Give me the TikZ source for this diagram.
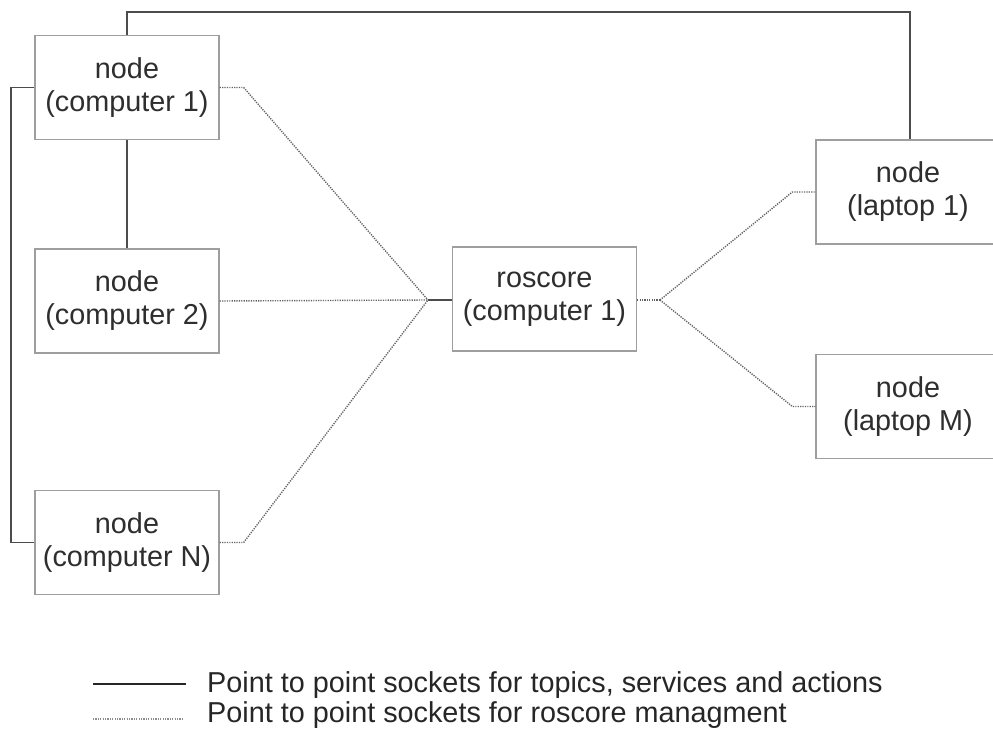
\documentclass[tikz,border=0pt]{standalone}
\usepackage{fontspec}
\setmainfont{Liberation Sans}
\begin{document}
\begin{tikzpicture}[x=1pt,y=-1pt,
  box/.style={draw=black!38, line width=1.3pt, fill=white, minimum width=184pt, minimum height=104pt,
    align=center, text=black!82, inner sep=0pt,
    font=\fontsize{28.8}{33}\selectfont},
  solidline/.style={draw=black!70, line width=1.9pt},
  dotline/.style={draw=black!62, line width=1.4pt, dash pattern=on 1.2pt off 1.2pt},
  legtext/.style={anchor=west, text=black!85, inner sep=0pt, font=\fontsize{28.8}{32}\selectfont}]
\useasboundingbox (0,0) rectangle (993,733);
\fill[white] (0,0) rectangle (993,733);
% nodes
\node[box] (c1) at (127,87.5) {node\\(computer 1)};
\node[box] (c2) at (127,301) {node\\(computer 2)};
\node[box] (cN) at (127,542.5) {node\\(computer N)};
\node[box] (ros) at (544.5,299) {roscore\\(computer 1)};
\node[box] (l1) at (908,192) {node\\(laptop 1)};
\node[box] (lM) at (908,406.5) {node\\(laptop M)};
\coordinate (jL) at (428,300);
\coordinate (jR) at (660,300);
% solid connections
\draw[solidline] (c1.north) -- ++(0,-23) -| ([xshift=2pt]l1.north);
\draw[solidline] (c1.west) -- ++(-23,0) |- (cN.west);
\draw[solidline] (c1.south) -- (c2.north);
\draw[solidline] (jL) -- (ros.west |- jL);
% dotted connections
\draw[dotline] (c1.east) -- ++(24,0) -- (jL);
\draw[dotline] (c2.east) -- (jL);
\draw[dotline] (cN.east) -- ++(24,0) -- (jL);
\draw[dotline] (ros.east |- jR) -- (jR);
\draw[dotline] (jR) -- ([xshift=-23pt]l1.west) -- (l1.west);
\draw[dotline] (jR) -- ([xshift=-23pt]lM.west) -- (lM.west);
% legend
\coordinate (s1) at (93,684);
\coordinate (s2) at (186,684);
\coordinate (d1) at (93,719);
\coordinate (d2) at (184,719);
\draw[draw=black!85, line width=1.8pt] (s1) -- (s2);
\draw[dotline, draw=black!45] (d1) -- (d2);
\node[legtext] (t1) at (207,685) {Point to point sockets for topics, services and actions};
\node[legtext] (t2) at (207,715) {Point to point sockets for roscore managment};
\end{tikzpicture}
\end{document}
